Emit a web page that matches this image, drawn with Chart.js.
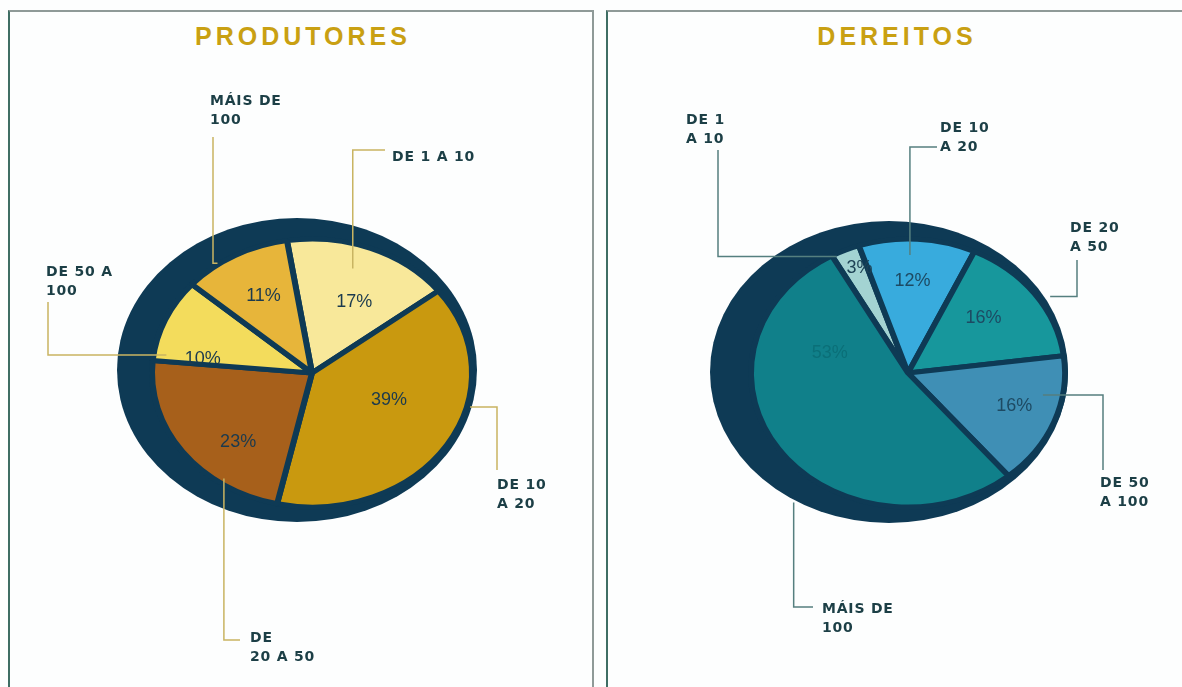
<!DOCTYPE html>
<html>
<head>
<meta charset="utf-8">
<script src="https://cdn.jsdelivr.net/npm/chart.js@4.4.0/dist/chart.umd.min.js"></script>
<style>
body { margin: 0; background: #fdfefe; }
#page { position: relative; width: 1182px; height: 687px; overflow: hidden; }
.panel { position: absolute; top: 10px; height: 700px; box-sizing: border-box;
  border: 2px solid #8f9a98; border-left-color: #3f6e64; }
.title { position: absolute; top: 22px; text-align: center; line-height: 28px;
  font: bold 25px "Liberation Sans", Arial, sans-serif; letter-spacing: 4px; color: #c9a012; }
canvas { position: absolute; left: 0; top: 0; }
</style>
</head>
<body>
<div id="page">
  <div class="panel" style="left:8px;width:586px"></div>
  <div class="panel" style="left:606px;width:600px"></div>
  <div class="title" style="left:8px;width:590px">PRODUTORES</div>
  <div class="title" style="left:606px;width:582px">DEREITOS</div>
  <canvas id="produtores" width="1182" height="687"></canvas>
  <canvas id="dereitos" width="1182" height="687"></canvas>
</div>
<script>
// categorias (as etiquetas levan o salto de liña de cada gráfico)
var categories = ['DE 1 A 10', 'DE 10 A 20', 'DE 20 A 50', 'DE 50 A 100', 'MÁIS DE 100'];
var produtoresLabels = [['DE 1 A 10'], ['DE 10', 'A 20'], ['DE', '20 A 50'], ['DE 50 A', '100'], ['MÁIS DE', '100']];
var dereitosLabels = [['DE 1', 'A 10'], ['DE 10', 'A 20'], ['DE 20', 'A 50'], ['DE 50', 'A 100'], ['MÁIS DE', '100']];

// porcentaxes
var produtores = [17, 39, 23, 10, 11];
var dereitos = [3, 12, 16, 16, 53];

var produtoresColors = ['#f8e89a', '#c9990f', '#a7601b', '#f3dc5c', '#e7b53a'];
var dereitosColors = ['#a3d3d2', '#38abdd', '#17979c', '#3f8fb5', '#10808a'];
var navy = '#0e3a55';

// points on the oval: angle shift (deg) from slice middle, radius fraction
function ovalPoint(arc, stretch, dA, rf) {
  var a = (arc.startAngle + arc.endAngle) / 2 + dA * Math.PI / 180;
  var r = arc.outerRadius;
  return { x: arc.x + Math.cos(a) * r * rf * stretch, y: arc.y + Math.sin(a) * r * rf };
}

var ovalPlugin = {
  id: 'oval',
  beforeDatasetsDraw: function(chart, args, opts) {
    var ctx = chart.ctx;
    var arc = chart.getDatasetMeta(0).data[0];
    var cx = arc.x, cy = arc.y, r = arc.outerRadius;
    ctx.save();
    ctx.fillStyle = navy;
    ctx.beginPath();
    ctx.ellipse(cx + opts.backDx, cy + opts.backDy, r * opts.backRx, r * opts.backRy, 0, 0, Math.PI * 2);
    ctx.fill();
    ctx.translate(cx, cy);
    ctx.scale(opts.stretch, 1);
    ctx.translate(-cx, -cy);
  },
  afterDatasetsDraw: function(chart, args, opts) {
    var ctx = chart.ctx;
    ctx.restore();
    var meta = chart.getDatasetMeta(0);
    var values = chart.data.datasets[0].data;
    ctx.save();
    // percentages
    ctx.font = '18px "Liberation Sans", Arial, sans-serif';
    ctx.textAlign = 'center';
    ctx.textBaseline = 'middle';
    meta.data.forEach(function(arc, i) {
      var p = ovalPoint(arc, opts.stretch, opts.pctShift[i], opts.pctRadius[i]);
      ctx.fillStyle = opts.pctColors[i];
      ctx.fillText(values[i] + '%', p.x, p.y);
    });
    // leader lines
    ctx.strokeStyle = opts.lineColor;
    ctx.lineWidth = 1.5;
    meta.data.forEach(function(arc, i) {
      var c = opts.callouts[i];
      var e = ovalPoint(arc, opts.stretch, c.dA, c.r);
      ctx.beginPath();
      ctx.moveTo(c.ax, c.ay);
      if (c.mode == 'hv') ctx.lineTo(e.x, c.ay);
      else ctx.lineTo(c.ax, e.y);
      ctx.lineTo(e.x, e.y);
      ctx.stroke();
    });
    // category labels
    ctx.font = 'bold 14px "DejaVu Sans", sans-serif';
    ctx.letterSpacing = '0.8px';
    ctx.textAlign = 'left';
    ctx.fillStyle = '#1c3f46';
    chart.data.labels.forEach(function(lines, i) {
      var c = opts.callouts[i];
      lines.forEach(function(t, k) { ctx.fillText(t, c.tx, c.ty + k * 19.5); });
    });
    ctx.restore();
  }
};

function makePie(id, labels, values, colors, rotation, cx, cy, ry, oval) {
  return new Chart(document.getElementById(id), {
    type: 'pie',
    data: {
      labels: labels,
      datasets: [{ data: values, backgroundColor: colors, borderColor: navy, borderWidth: 5, clip: false }]
    },
    options: {
      responsive: false,
      animation: false,
      events: [],
      rotation: rotation,
      radius: ry,
      layout: { padding: { left: cx - ry, right: 1182 - cx - ry, top: cy - ry, bottom: 687 - cy - ry } },
      plugins: { legend: { display: false }, tooltip: { enabled: false }, oval: oval }
    },
    plugins: [ovalPlugin]
  });
}

makePie('produtores', produtoresLabels, produtores, produtoresColors, -9, 312, 373, 134, {
  stretch: 160 / 134, backDx: -15, backDy: -3, backRx: 180 / 134, backRy: 152 / 134,
  lineColor: '#c9b462',
  pctShift: [5, -10, -12, -15, 1], pctRadius: [0.59, 0.52, 0.69, 0.69, 0.65],
  pctColors: ['#1b3a4e', '#1b3a4e', '#1b3a4e', '#1b3a4e', '#1b3a4e'],
  callouts: [
    { tx: 392, ty: 157, ax: 385, ay: 150, mode: 'hv', dA: -3.5, r: 0.82 },
    { tx: 497, ty: 485, ax: 497, ay: 470, mode: 'vh', dA: -18, r: 1.02 },
    { tx: 250, ty: 638, ax: 240, ay: 640, mode: 'hv', dA: -19, r: 0.96 },
    { tx: 46, ty: 272, ax: 48, ay: 302, mode: 'vh', dA: -15, r: 0.92 },
    { tx: 210, ty: 101, ax: 213, ay: 137, mode: 'vh', dA: -7, r: 1.01 }
  ]
});

makePie('dereitos', dereitosLabels, dereitos, dereitosColors, -29, 908, 373, 134, {
  stretch: 157 / 134, backDx: -19, backDy: -1, backRx: 179 / 134, backRy: 151 / 134,
  lineColor: '#557f7f',
  pctShift: [2, -1, -4, -1.5, 51], pctRadius: [0.84, 0.69, 0.63, 0.72, 0.52],
  pctColors: ['#1d4255', '#1d4a63', '#1d4a63', '#1d4a63', '#0b6f78'],
  callouts: [
    { tx: 686, ty: 120, ax: 718, ay: 150, mode: 'vh', dA: -4, r: 0.98 },
    { tx: 940, ty: 128, ax: 937, ay: 147, mode: 'hv', dA: -2.6, r: 0.88 },
    { tx: 1070, ty: 228, ax: 1077, ay: 260, mode: 'vh', dA: 4, r: 1.07 },
    { tx: 1100, ty: 483, ax: 1103, ay: 470, mode: 'vh', dA: -10.6, r: 0.875 },
    { tx: 822, ty: 609, ax: 813, ay: 607, mode: 'hv', dA: -18.6, r: 1.21 }
  ]
});
</script>
</body>
</html>
